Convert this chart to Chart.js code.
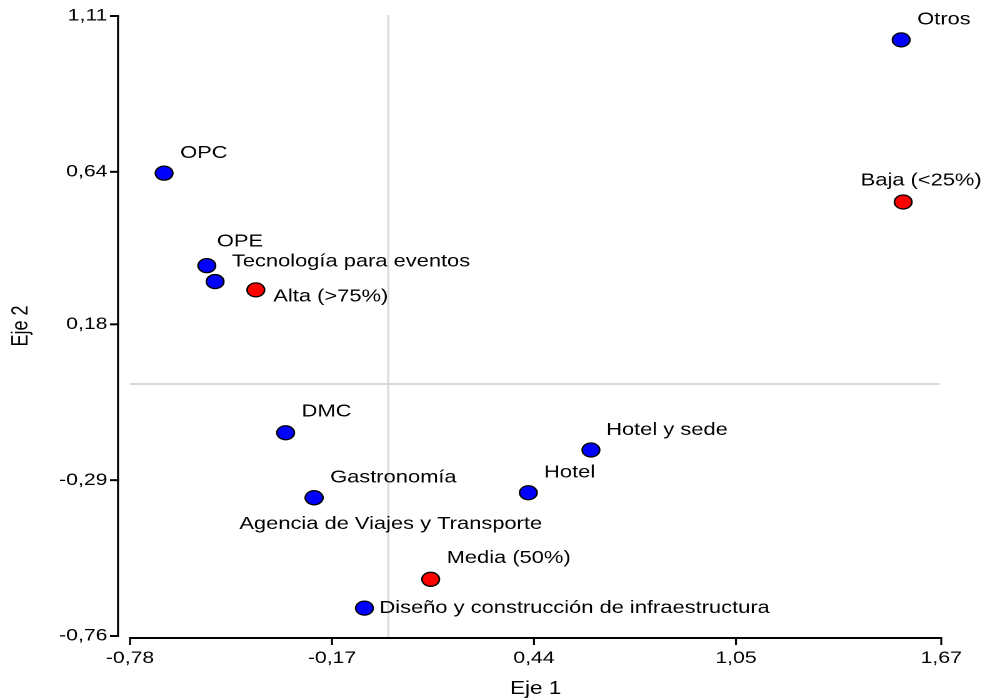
<!DOCTYPE html>
<html>
<head>
<meta charset="utf-8">
<script src="https://cdn.jsdelivr.net/npm/chart.js@4/dist/chart.umd.min.js"></script>
<style>
  html, body { margin: 0; padding: 0; background: #ffffff; overflow: hidden; }
  /* the map is drawn 786px wide and widened to the full 982px frame */
  #wrap { position: absolute; left: 0; top: 0; width: 786px; height: 700px;
          transform: scaleX(1.25); transform-origin: 0 0; }
</style>
</head>
<body>
<div id="wrap"><canvas id="mapa"></canvas></div>
<script>
// Tipos de proveedor (puntos azules)
const serviceNames = ['Otros', 'OPC', 'OPE', 'Tecnología para eventos', 'DMC', 'Hotel y sede',
                      'Gastronomía', 'Agencia de Viajes y Transporte', 'Hotel',
                      'Diseño y construcción de infraestructura'];
const serviceEje1 = [1.549, -0.677, -0.548, -0.523, -0.310, 0.612, -0.224, -0.224, 0.423, -0.072];
const serviceEje2 = [1.038, 0.636, 0.357, 0.309, -0.147, -0.199, -0.343, -0.343, -0.328, -0.676];

// Niveles (puntos rojos)
const levelNames = ['Alta (>75%)', 'Media (50%)', 'Baja (<25%)'];
const levelEje1 = [-0.400, 0.128, 1.555];
const levelEje2 = [0.284, -0.589, 0.549];

// Marcas de los ejes
const xTicks = [-0.78, -0.17, 0.44, 1.05, 1.67];
const yTicks = [-0.76, -0.29, 0.18, 0.64, 1.11];

// Desplazamiento de cada etiqueta respecto a su punto [dx, dy]
const serviceLabelPlacement = [[12.8, -20], [12.8, -20], [8, -24], [13.4, -20], [12.8, -21], [12.2, -20],
                               [12.8, -20], [-59.8, 26.6], [12.6, -20], [12, 0]];
const levelLabelPlacement = [[14, 6.7], [12.8, -21], [-34, -21.5]];

const FONT = '"Liberation Sans", Arial, sans-serif';
const fmt = v => v.toFixed(2).replace('.', ',');

const toPoints = (xs, ys) => xs.map((x, i) => ({ x: x, y: ys[i] }));

// Líneas de referencia en el origen
const originLines = {
  id: 'originLines',
  beforeDatasetsDraw(chart) {
    const { ctx, chartArea: a, scales: { x, y } } = chart;
    const px = x.getPixelForValue(0), py = y.getPixelForValue(0);
    ctx.save();
    ctx.strokeStyle = '#d9d9d9';
    ctx.lineWidth = 1.6;
    ctx.beginPath(); ctx.moveTo(px, a.top - 1); ctx.lineTo(px, a.bottom + 1); ctx.stroke();
    ctx.lineWidth = 2;
    ctx.beginPath(); ctx.moveTo(a.left, py); ctx.lineTo(a.right - 1.5, py); ctx.stroke();
    ctx.restore();
  }
};

// Ejes separados del área de trazado
const detachedAxes = {
  id: 'detachedAxes',
  afterDraw(chart) {
    const { ctx, chartArea: a, scales: { x, y } } = chart;
    ctx.save();
    ctx.strokeStyle = '#000';
    // eje vertical
    const ax = a.left - 9.6;
    ctx.lineWidth = 1.6;
    ctx.beginPath(); ctx.moveTo(ax, a.top); ctx.lineTo(ax, a.bottom); ctx.stroke();
    ctx.lineWidth = 2;
    y.ticks.forEach(t => {
      const p = y.getPixelForValue(t.value);
      ctx.beginPath(); ctx.moveTo(ax - 6.4, p); ctx.lineTo(ax + 0.8, p); ctx.stroke();
    });
    // eje horizontal
    const ay = a.bottom + 2;
    ctx.lineWidth = 2;
    ctx.beginPath(); ctx.moveTo(a.left, ay); ctx.lineTo(a.right, ay); ctx.stroke();
    ctx.lineWidth = 1.6;
    x.ticks.forEach(t => {
      const p = x.getPixelForValue(t.value);
      ctx.beginPath(); ctx.moveTo(p, ay - 1); ctx.lineTo(p, ay + 7); ctx.stroke();
    });
    ctx.restore();
  }
};

// Etiquetas de los puntos
const pointLabels = {
  id: 'pointLabels',
  afterDatasetsDraw(chart) {
    const { ctx } = chart;
    ctx.save();
    ctx.font = '17.5px ' + FONT;
    ctx.fillStyle = '#000';
    ctx.textAlign = 'left';
    ctx.textBaseline = 'middle';
    chart.data.datasets.forEach((ds, di) => {
      const meta = chart.getDatasetMeta(di);
      meta.data.forEach((el, i) => {
        const [dx, dy] = ds.labelPlacement[i];
        ctx.fillText(ds.names[i], el.x + dx, el.y + dy);
      });
    });
    ctx.restore();
  }
};

new Chart(document.getElementById('mapa'), {
  type: 'scatter',
  data: {
    datasets: [
      {
        label: 'Tipo de proveedor',
        names: serviceNames,
        labelPlacement: serviceLabelPlacement,
        data: toPoints(serviceEje1, serviceEje2),
        backgroundColor: '#0000ff',
        borderColor: '#000000',
        borderWidth: 1.3,
        pointRadius: 7,
        pointHoverRadius: 7
      },
      {
        label: 'Nivel',
        names: levelNames,
        labelPlacement: levelLabelPlacement,
        data: toPoints(levelEje1, levelEje2),
        backgroundColor: '#ff0000',
        borderColor: '#000000',
        borderWidth: 1.3,
        pointRadius: 7,
        pointHoverRadius: 7
      }
    ]
  },
  options: {
    responsive: true,
    maintainAspectRatio: false,
    devicePixelRatio: 2,
    animation: false,
    events: [],
    layout: { padding: { top: 16, right: 33, bottom: 0, left: 0 } },
    plugins: { legend: { display: false }, tooltip: { enabled: false } },
    scales: {
      x: {
        type: 'linear',
        min: xTicks[0],
        max: xTicks[xTicks.length - 1],
        afterBuildTicks: s => { s.ticks = xTicks.map(v => ({ value: v })); },
        afterFit: s => { s.height = 64; s.paddingLeft = 0; s.paddingRight = 0; },
        grid: { display: false, drawTicks: false },
        border: { display: false },
        ticks: { color: '#000', padding: 12, maxRotation: 0, autoSkip: false,
                 font: { family: FONT, size: 17 }, callback: v => fmt(v) },
        title: { display: true, text: 'Eje 1', color: '#000', padding: { top: 0, bottom: 0 },
                 font: { family: FONT, size: 18 } }
      },
      y: {
        type: 'linear',
        min: yTicks[0],
        max: yTicks[yTicks.length - 1],
        afterBuildTicks: s => { s.ticks = yTicks.map(v => ({ value: v })); },
        afterFit: s => { s.width = 104; s.paddingTop = 0; s.paddingBottom = 0; },
        grid: { display: false, drawTicks: false },
        border: { display: false },
        ticks: { color: '#000', padding: 18, autoSkip: false,
                 font: { family: FONT, size: 17 }, callback: v => fmt(v) },
        title: { display: true, text: 'Eje 2', color: '#000', padding: { top: 6, bottom: 0 },
                 font: { family: FONT, size: 18 } }
      }
    }
  },
  plugins: [originLines, detachedAxes, pointLabels]
});
</script>
</body>
</html>
